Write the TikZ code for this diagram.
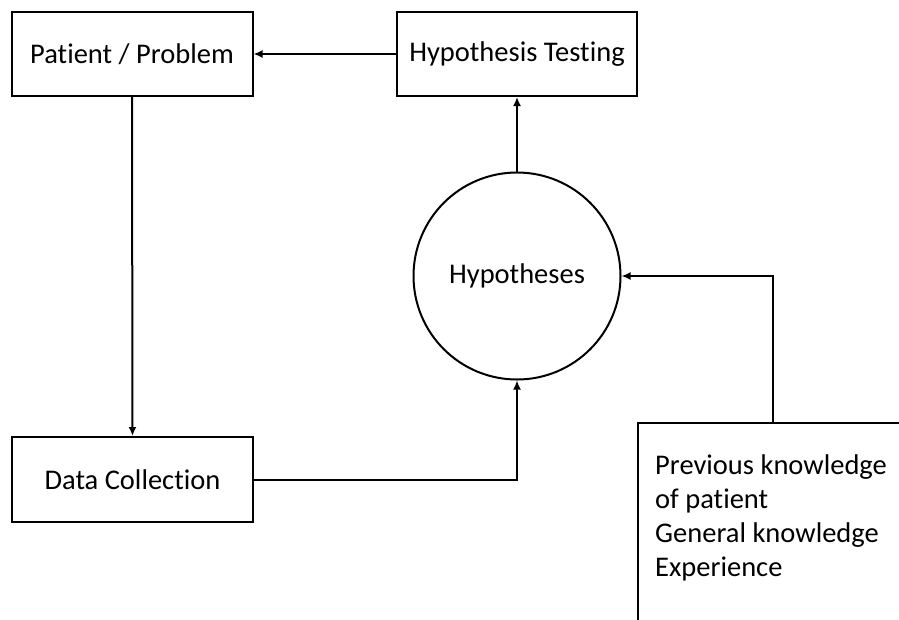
\documentclass[tikz,border=0pt]{standalone}
\usepackage{fontspec}
\setmainfont{Carlito}[Ligatures=CommonOff]
\usetikzlibrary{arrows.meta}
\begin{document}
\begin{tikzpicture}[x=1pt,y=-1pt,
  every node/.style={font=\fontsize{28.5}{33.7}\selectfont},
  box/.style={draw,line width=2pt,rectangle,inner sep=0pt,minimum height=84pt},
  conn/.style={line width=2pt,-{Latex[length=9pt,width=8pt]}}]
\useasboundingbox (0,0) rectangle (899,619);
\clip (0,0) rectangle (899,619);
% process boxes
\node[box,minimum width=241pt] (pp) at (132,54) {Patient / Problem};
\node[box,minimum width=240pt] (ht) at (517,54) {Hypothesis Testing};
\node[box,minimum width=241pt,minimum height=85pt] (dc) at (132.5,479.5) {Data Collection};
\node[draw,circle,line width=2pt,minimum size=207pt,inner sep=0pt] (hy) at (517,276) {Hypotheses};
% knowledge box, running past the page edges
\node[box,anchor=north west,minimum width=270pt,minimum height=240pt] (kn) at (637,422) {};
\node[anchor=base west,align=left,inner sep=0pt] (kt) at (655,576)
  {Previous knowledge\\of patient\\General knowledge\\Experience};
% connectors
\draw[conn] (ht.west) -- (pp.east);
\draw[conn] (pp.south) -- (dc.north);
\draw[conn] (dc.east) -| (hy.south);
\draw[conn] (hy.north) -- (ht.south);
\draw[conn] (kn.north) |- (hy.east);
\end{tikzpicture}
\end{document}
